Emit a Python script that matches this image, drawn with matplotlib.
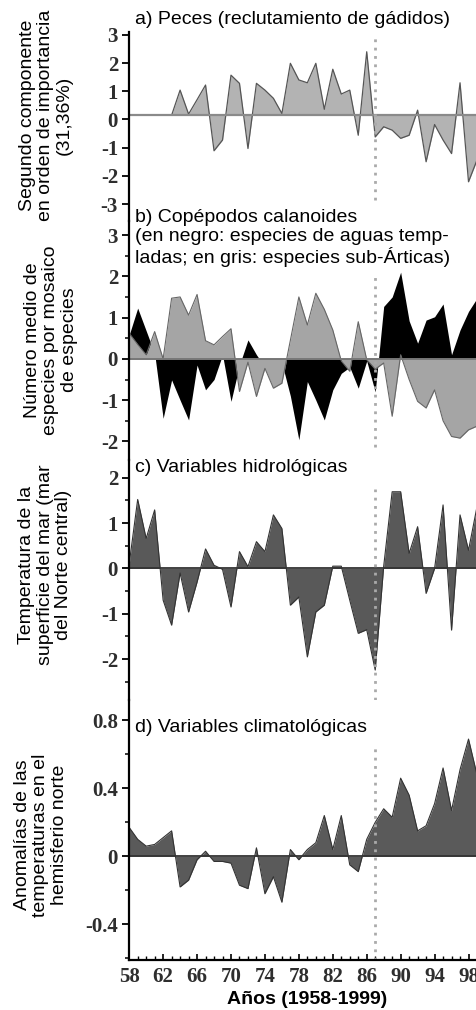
import matplotlib
matplotlib.use("Agg")
import matplotlib.pyplot as plt
from matplotlib.ticker import MultipleLocator

plt.rcParams['font.family'] = ['Liberation Sans', 'DejaVu Sans']
plt.rcParams['axes.unicode_minus'] = False

years = list(range(1958, 2000))
fish_years = list(range(1963, 2000))

# a) second principal component of gadoid recruitment
fish = [0.15, 1.04, 0.19, 0.70, 1.22, -1.11, -0.73, 1.57, 1.28, -1.03,
        1.28, 1.04, 0.75, 0.21, 1.99, 1.40, 1.30, 1.99, 0.36, 1.78,
        0.90, 1.04, -0.56, 2.40, -0.62, -0.26, -0.38, -0.67, -0.56, 0.33,
        -1.50, -0.18, -0.73, -1.21, 1.30, -2.21, -1.44]

# b) calanoid copepods (black: temperate species, grey: sub-arctic species)
temperate = [0.58, 1.23, 0.68, 0.13, -1.44, -0.51, -1.00, -1.48, -0.15, -0.75,
             -0.50, 0.10, -1.03, -0.15, 0.46, 0.10, -0.20, -0.40, -0.10, -0.90,
             -1.96, -0.55, -1.00, -1.48, -0.75, -0.35, -0.20, -0.71, -0.05, -0.80,
             1.27, 1.50, 2.10, 0.92, 0.38, 0.94, 1.02, 1.33, 0.10, 0.70,
             1.15, 1.47]
subarctic = [0.62, 0.35, 0.10, 0.66, 0.00, 1.47, 1.50, 1.06, 1.56, 0.44,
             0.34, 0.54, 0.73, -0.79, -0.08, -0.91, -0.23, -0.71, -0.59, 0.45,
             1.50, 0.82, 1.59, 1.20, 0.70, -0.05, -0.30, 0.90, -0.02, -0.25,
             -0.10, -1.39, 0.10, -0.50, -1.03, -1.19, -0.75, -1.50, -1.88, -1.92,
             -1.72, -1.63]

# c) central North Sea surface temperature
sst = [0.10, 1.52, 0.66, 1.29, -0.70, -1.25, -0.10, -0.96, -0.30, 0.43,
       0.07, -0.02, -0.85, 0.37, 0.04, 0.59, 0.37, 1.18, 0.88, -0.81,
       -0.63, -1.95, -0.96, -0.81, 0.05, 0.05, -0.70, -1.43, -1.35, -2.24,
       0.05, 1.69, 1.69, 0.33, 0.92, -0.55, 0.00, 1.40, -1.36, 1.18,
       0.40, 1.36]

# d) northern hemisphere temperature anomalies
nh_temp = [0.17, 0.10, 0.06, 0.07, 0.11, 0.15, -0.18, -0.14, -0.02, 0.03,
           -0.03, -0.03, -0.04, -0.17, -0.19, 0.05, -0.22, -0.12, -0.27, 0.04,
           -0.02, 0.04, 0.08, 0.24, 0.04, 0.24, -0.05, -0.09, 0.10, 0.20,
           0.28, 0.23, 0.46, 0.36, 0.15, 0.18, 0.31, 0.52, 0.27, 0.51,
           0.69, 0.48]

x_ticks = list(range(1958, 1999, 4))
x_tick_labels = ['58', '62', '66', '70', '74', '78', '82', '86', '90', '94', '98']
shift_year = 1987

titles = ['a) Peces (reclutamiento de gádidos)',
          'b) Copépodos calanoides\n(en negro: especies de aguas temp-\nladas; en gris: especies sub-Árticas)',
          'c) Variables hidrológicas',
          'd) Variables climatológicas']
ylabels = ['Segundo componente\nen orden de importancia\n(31,36%)',
           'Número medio de\nespecies por mosaico\nde especies',
           'Temperatura de la\nsuperficie del mar (mar\ndel Norte central)',
           'Anomalías de las\ntemperaturas en el\nhemisferio norte']

fig = plt.figure(figsize=(4.77, 10.1), dpi=100)
W, H = 477.0, 1010.0
left = 129.2 / W
# (top, bottom) of each panel in pixels
rows = [(32, 221), (221, 460), (460, 700), (700, 960)]
axes = []
for top, bot in rows:
    ax = fig.add_axes([left, 1 - bot / H, 1 - left, (bot - top) / H])
    axes.append(ax)

serif = {'family': 'Liberation Serif', 'size': 15, 'color': '#2e2e2e',
         'weight': 'bold'}

for i, ax in enumerate(axes):
    ax.set_xlim(1958, 1999.0)
    ax.set_facecolor('none')
    for s in ['top', 'right', 'bottom']:
        ax.spines[s].set_visible(False)
    ax.spines['left'].set_linewidth(1.6)
    ax.tick_params(axis='y', direction='out', length=5, width=1.3, pad=3)
    ax.tick_params(axis='y', which='minor', direction='out', length=3, width=1.1)
    if i < 3:
        ax.set_xticks([])

# a) fish
ax = axes[0]
base = 0.15
ax.fill_between(fish_years, fish, base, color='#b3b3b3', lw=0)
ax.plot(fish_years, fish, color='#555555', lw=0.9)
ax.axhline(base, color='#8a8a8a', lw=1.6)
ax.set_ylim(-3.6, 3.1)
ax.set_yticks([-3, -2, -1, 0, 1, 2, 3])
ax.set_yticklabels(['-3', '-2', '-1', '0', '1', '2', '3'], fontdict=serif)
ax.axvline(shift_year, 0.11, 0.97, color='#aaaaaa', ls=(0, (1, 2)), lw=2)

# b) copepods
ax = axes[1]
ax.fill_between(years, temperate, 0, color='black', lw=0)
ax.fill_between(years, subarctic, 0, color='#a5a5a5', lw=0)
ax.plot(years, subarctic, color='#666666', lw=0.8)
ax.axhline(0, color='#777777', lw=1.4)
ax.set_ylim(-2.45, 3.34)
ax.set_yticks([-2, -1, 0, 1, 2, 3])
ax.set_yticklabels(['-2', '-1', '0', '1', '2', '3'], fontdict=serif)
ax.yaxis.set_minor_locator(MultipleLocator(0.5))
ax.axvline(shift_year, 0.054, 0.78, color='#aaaaaa', ls=(0, (1, 2)), lw=2)

# c) SST
ax = axes[2]
ax.fill_between(years, sst, 0, color='#595959', lw=0)
ax.plot(years, sst, color='#333333', lw=0.8)
ax.axhline(0, color='#333333', lw=1.3)
ax.set_ylim(-2.9, 2.39)
ax.set_yticks([-2, -1, 0, 1, 2])
ax.set_yticklabels(['-2', '-1', '0', '1', '2'], fontdict=serif)
ax.yaxis.set_minor_locator(MultipleLocator(0.5))
ax.axvline(shift_year, 0.0, 0.88, color='#aaaaaa', ls=(0, (1, 2)), lw=2)

# d) NH temperature
ax = axes[3]
ax.fill_between(years, nh_temp, 0, color='#5a5a5a', lw=0)
ax.plot(years, nh_temp, color='#333333', lw=0.8)
ax.axhline(0, color='#333333', lw=1.3)
ax.set_ylim(-0.61, 0.92)
ax.set_yticks([-0.4, 0, 0.4, 0.8])
ax.set_yticklabels(['-0.4', '0', '0.4', '0.8'], fontdict=serif)
ax.yaxis.set_minor_locator(MultipleLocator(0.2))
ax.axvline(shift_year, 0.0, 0.815, color='#aaaaaa', ls=(0, (1, 2)), lw=2)
ax.spines['bottom'].set_visible(True)
ax.spines['bottom'].set_linewidth(1.6)
ax.set_xticks(x_ticks)
ax.set_xticklabels(x_tick_labels, fontdict=serif)
ax.xaxis.set_minor_locator(MultipleLocator(1))
ax.tick_params(axis='x', direction='in', length=4, width=1.2, pad=5)
ax.tick_params(axis='x', which='minor', direction='in', length=3, width=1.0)

# panel titles
title_y = [20, 238, 468, 728]
for t, yp in zip(titles, title_y):
    fig.text(135 / W, 1 - yp / H, t, fontsize=14, ha='left', va='center',
             linespacing=1.12)

# y labels
ylab_pos = [(46, 115), (51, 340), (45, 565), (41, 835)]
for t, (xp, yp) in zip(ylabels, ylab_pos):
    fig.text(xp / W, 1 - yp / H, t, fontsize=14, rotation=90, ha='center',
             va='center', multialignment='center', linespacing=1.1)

fig.text(307 / W, 1 - 1000 / H, 'Años (1958-1999)', fontsize=14,
         fontweight='bold', ha='center', va='center')

fig.savefig('out.png', dpi=100)
